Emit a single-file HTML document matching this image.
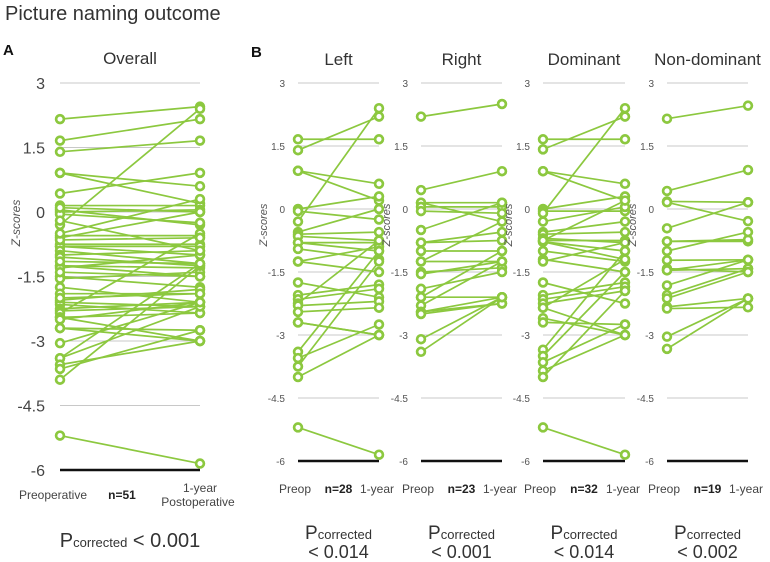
<!DOCTYPE html>
<html><head><meta charset="utf-8">
<style>
html,body{margin:0;padding:0;background:#fff;}
svg{display:block;font-family:"Liberation Sans",sans-serif;}
</style></head>
<body>
<svg id="chart" width="770" height="562" viewBox="0 0 770 562">
<text x="5" y="20" font-size="20" fill="#333">Picture naming outcome</text>
<text x="3" y="55" font-size="15" font-weight="bold" fill="#111">A</text>
<text x="251" y="57" font-size="15" font-weight="bold" fill="#111">B</text>
</svg>
<script>
const overallPre=[2.16,1.66,1.40,0.91,0.91,0.43,0.15,0.05,0.0,-0.05,-0.3,-0.55,-0.6,-0.75,-0.8,-0.8,-0.9,-1.0,-1.05,-1.25,-1.25,-1.3,-1.5,-1.55,-1.75,-1.9,-2.05,-2.1,-2.15,-2.25,-2.3,-2.35,-2.45,-2.45,-2.7,-2.7,-3.05,-3.4,-3.4,-3.55,-3.65,-3.9,-5.2,-0.65,-0.5,-1.4,-2.0,0.1,-0.2,-1.15,-2.5];
const overallPost=[2.45,2.16,1.66,0.2,0.6,0.91,0.15,-0.3,0.05,-0.25,2.4,-0.55,0.0,-0.75,-0.8,-1.0,-1.2,-0.9,-1.25,-1.5,-1.3,-1.0,-1.75,-1.4,-2.1,-1.9,-1.8,-2.2,-2.35,-2.1,-2.2,-0.5,-3.0,-2.35,-3.0,-2.75,-2.1,-1.2,-2.2,-3.0,-2.75,-1.25,-5.85,-0.6,0.3,-1.5,-1.9,0.0,-0.9,-1.2,-2.1];
const leftPre=[1.66,1.40,0.91,0.91,0.0,-0.05,-0.3,-0.55,-0.6,-0.65,-0.8,-0.8,-0.95,-1.25,-1.25,-1.75,-2.05,-2.15,-2.25,-2.3,-2.45,-2.7,-2.7,-3.4,-3.55,-3.75,-4.0,-5.2];
const leftPost=[1.66,2.2,0.6,0.2,0.3,-0.25,2.4,0.0,-0.55,-0.75,-0.8,-1.0,-1.2,-0.9,-1.5,-2.1,-1.8,-1.9,-0.75,-2.2,-2.35,-3.0,-3.0,-1.0,-2.75,-1.25,-3.0,-5.85];
const rightPre=[2.2,0.45,0.15,0.15,0.05,-0.05,-0.5,-0.8,-0.8,-1.0,-1.25,-1.25,-1.5,-1.55,-1.9,-2.1,-2.1,-2.3,-2.45,-2.45,-2.5,-3.1,-3.4];
const rightPost=[2.5,0.9,0.15,-0.3,0.05,-0.1,0.15,-0.55,-0.75,-1.0,-1.25,-0.3,-1.4,-1.25,-1.5,-1.0,-2.1,-1.25,-2.25,-2.1,-2.25,-2.1,-2.1];
const domPre=[1.66,1.42,0.9,0.9,0.0,-0.05,-0.1,-0.3,-0.55,-0.6,-0.7,-0.75,-0.78,-0.78,-1.0,-1.2,-1.25,-1.75,-2.05,-2.15,-2.25,-2.35,-2.35,-2.6,-2.7,-3.35,-3.5,-3.65,-3.85,-4.0,-5.2,-0.75];
const domPost=[1.66,2.2,0.6,0.2,0.3,-0.05,2.4,0.05,-0.3,-0.55,-0.8,-0.75,-1.0,-1.2,-1.25,-1.5,-0.8,-2.25,-1.75,-1.85,-1.95,-1.2,-3.0,-3.0,-2.75,-1.0,-1.5,-2.75,-3.0,-1.95,-5.85,0.2];
const ndPre=[2.15,0.43,0.18,0.16,-0.46,-0.77,-0.77,-1.0,-1.22,-1.42,-1.46,-1.46,-1.82,-2.05,-2.13,-2.33,-2.37,-3.04,-3.33];
const ndPost=[2.46,0.93,0.16,-0.29,0.16,-0.77,-0.73,-0.55,-1.21,-1.5,-1.21,-1.42,-1.21,-1.42,-1.5,-2.13,-2.34,-2.13,-2.13];
const tickValues=[3,1.5,0,-1.5,-3,-4.5,-6];
const tickLabels=["3","1.5","0","-1.5","-3","-4.5","-6"];
const panelTitles=["Overall","Left","Right","Dominant","Non-dominant"];
const nLabels=["n=51","n=28","n=23","n=32","n=19"];
const pLabels=["< 0.001","< 0.014","< 0.001","< 0.014","< 0.002"];

const NS="http://www.w3.org/2000/svg";
const svg=document.getElementById('chart');
const GREEN="#8cc83f";
function mk(tag,attrs,parent){const e=document.createElementNS(NS,tag);for(const k in attrs)e.setAttribute(k,attrs[k]);(parent||svg).appendChild(e);return e;}

const panels=[
 {key:'overall',pre:overallPre,post:overallPost,x0:60,x1:200,y0:212,k:43,big:true},
 {key:'left',pre:leftPre,post:leftPost,x0:298,x1:379,y0:209,k:42},
 {key:'right',pre:rightPre,post:rightPost,x0:421,x1:502,y0:209,k:42},
 {key:'dominant',pre:domPre,post:domPost,x0:543,x1:625,y0:209,k:42},
 {key:'non-dominant',pre:ndPre,post:ndPost,x0:667,x1:748,y0:209,k:42}
];

panels.forEach((p,pi)=>{
  const y=v=>p.y0-v*p.k;
  const g=mk('g',{});
  
  
  const cx=(p.x0+p.x1)/2;
  const t=mk('text',{x:cx,y:p.big?64:65,'text-anchor':'middle','font-size':17,fill:'#333'},g);
  t.textContent=panelTitles[pi];
  
  
  tickValues.forEach((tv,i)=>{
    const yy=y(tv);
    if(tv!==-6){
      const gl=mk('line',{x1:p.x0,x2:p.x1,y1:yy,y2:yy,stroke:'#c8c8c8','stroke-width':1},g);
      
      
    }
    const tl=mk('text',{x:p.big?45:p.x0-13,y:yy+(p.big?6:4),'text-anchor':'end','font-size':p.big?16:10,fill:p.big?'#444':'#555'},g);
    tl.textContent=tickLabels[i];
    
    
  });
  const zx=p.big?20:p.x0-31, zy=p.big?223:225;
  const z=mk('text',{x:zx,y:zy,'text-anchor':'middle','font-size':p.big?12:11,fill:'#555','font-style':'italic',transform:'rotate(-90 '+zx+' '+zy+')'},g);
  z.textContent='Z-scores';
  
  
  p.pre.forEach((v,i)=>{
    const l=mk('line',{x1:p.x0,x2:p.x1,y1:y(v),y2:y(p.post[i]),stroke:GREEN,'stroke-width':1.7},g);
    
    
  });
  const base=mk('line',{x1:p.x0,x2:p.x1,y1:y(-6),y2:y(-6),stroke:'#111','stroke-width':2.5},g);
  
  
  p.pre.forEach((v,i)=>{
    const c1=mk('circle',{cx:p.x0,cy:y(v),r:3.9,fill:'#fff',stroke:GREEN,'stroke-width':2.7},g);
    
    
    const c2=mk('circle',{cx:p.x1,cy:y(p.post[i]),r:3.9,fill:'#fff',stroke:GREEN,'stroke-width':2.7},g);
    
    
  });
  if(p.big){
    const a=mk('text',{x:53,y:499,'text-anchor':'middle','font-size':12,fill:'#444'},g);a.textContent='Preoperative';
    
    const n=mk('text',{x:122,y:499,'text-anchor':'middle','font-size':12,'font-weight':'bold',fill:'#222'},g);n.textContent=nLabels[pi];
    
    const b1=mk('text',{x:200,y:492,'text-anchor':'middle','font-size':12,fill:'#444'},g);b1.textContent='1-year';
    
    const b2=mk('text',{x:198,y:506,'text-anchor':'middle','font-size':12,fill:'#444'},g);b2.textContent='Postoperative';
    
    const pt=mk('text',{x:130,y:547,'text-anchor':'middle',fill:'#333'},g);
    pt.innerHTML='<tspan font-size="20">P</tspan><tspan font-size="13">corrected</tspan><tspan font-size="20"> '+pLabels[pi].replace('<','&lt;')+'</tspan>';
    
  } else {
    const a=mk('text',{x:p.x0-3,y:493,'text-anchor':'middle','font-size':12,fill:'#444'},g);a.textContent='Preop';
    
    const n=mk('text',{x:cx,y:493,'text-anchor':'middle','font-size':12,'font-weight':'bold',fill:'#222'},g);n.textContent=nLabels[pi];
    
    const b=mk('text',{x:p.x1-2,y:493,'text-anchor':'middle','font-size':12,fill:'#444'},g);b.textContent='1-year';
    
    const pt=mk('text',{x:cx,y:539,'text-anchor':'middle',fill:'#333'},g);
    pt.innerHTML='<tspan font-size="19">P</tspan><tspan font-size="13">corrected</tspan>';
    
    const pv=mk('text',{x:cx,y:558,'text-anchor':'middle','font-size':18,fill:'#333'},g);pv.textContent=pLabels[pi];
    
  }
});
</script>
</body></html>
